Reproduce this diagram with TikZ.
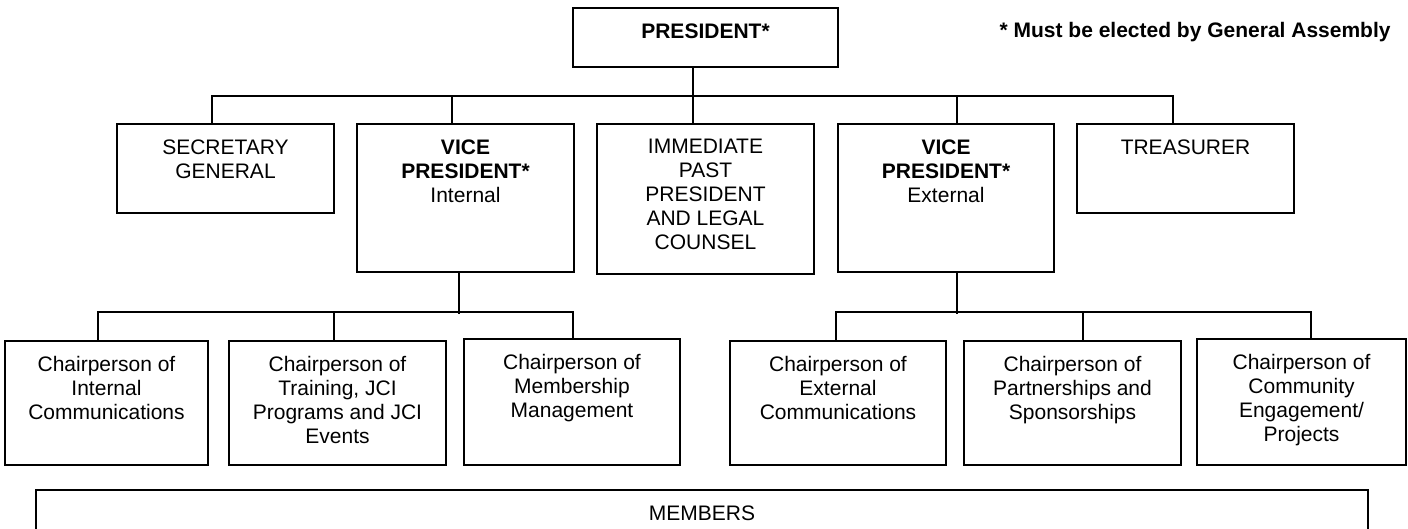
\documentclass[tikz,border=0pt]{standalone}
\usepackage{fontspec}
\setmainfont{Liberation Sans}
\usetikzlibrary{fit}

\tikzset{
  box/.style={draw, line width=1pt, inner sep=0pt},
  boxtext/.style={anchor=north, inner sep=0pt, yshift=-8pt, align=center},
  link/.style={line width=1pt},
}

\begin{document}
\begin{tikzpicture}[x=0.5pt, y=-0.5pt, font=\fontsize{10.5}{12}\selectfont]
    \useasboundingbox (0,0) rectangle (1408,529);

    % president and note
    \node[box, fit={(573,8) (838,67)}, label={[boxtext]north:{\textbf{PRESIDENT*}}}] (pres) {};
    \node[anchor=east, inner sep=0pt, font=\fontsize{10.5}{12}\selectfont\bfseries] (note) at (1391,32) {* Must be elected by General Assembly};

    % officers
    \node[box, fit={(117,124) (334,213)}, label={[boxtext]north:{SECRETARY\\GENERAL}}] (sec) {};
    \node[box, fit={(357,124) (574,272)}, label={[boxtext]north:{\textbf{VICE}\\\textbf{PRESIDENT*}\\Internal}}] (vpi) {};
    \node[box, fit={(597,124) (814,274)}, label={[boxtext]north:{IMMEDIATE\\PAST\\PRESIDENT\\AND LEGAL\\COUNSEL}}] (ipp) {};
    \node[box, fit={(838,124) (1054,272)}, label={[boxtext]north:{\textbf{VICE}\\\textbf{PRESIDENT*}\\External}}] (vpe) {};
    \node[box, fit={(1077,124) (1294,213)}, label={[boxtext]north:{TREASURER}}] (tre) {};

    \draw[link] ([xshift=48pt]sec.north west) -- ++(0,-27) -| ([xshift=48.5pt]tre.north west);
    \draw[link] ([xshift=60.5pt]pres.south west) -- ([xshift=48.5pt]ipp.north west);
    \draw[link] ([xshift=48pt]vpi.north west) -- ++(0,-27);
    \draw[link] ([xshift=60pt]vpe.north west) -- ++(0,-27);

    % internal chairs
    \node[box, fit={(5,341) (208,465)}, label={[boxtext]north:{Chairperson of\\Internal\\Communications}}] (ci1) {};
    \node[box, fit={(229,341) (446,465)}, label={[boxtext]north:{Chairperson of\\Training, JCI\\Programs and JCI\\Events}}] (ci2) {};
    \node[box, fit={(464,339) (680,465)}, label={[boxtext]north:{Chairperson of\\Membership\\Management}}] (ci3) {};

    \draw[link] ([xshift=51.5pt]vpi.south west) -- ++(0,41);
    \draw[link] ([xshift=47pt]ci1.north west) -- ++(0,-28) -| ([xshift=55pt]ci3.north west);
    \draw[link] ([xshift=53pt]ci2.north west) -- ++(0,-28);

    % external chairs
    \node[box, fit={(730,341) (946,465)}, label={[boxtext]north:{Chairperson of\\External\\Communications}}] (ce1) {};
    \node[box, fit={(964,341) (1181,465)}, label={[boxtext]north:{Chairperson of\\Partnerships and\\Sponsorships}}] (ce2) {};
    \node[box, fit={(1197,339) (1406,465)}, label={[boxtext]north:{Chairperson of\\Community\\Engagement/\\Projects}}] (ce3) {};

    \draw[link] ([xshift=60pt]vpe.south west) -- ++(0,41);
    \draw[link] ([xshift=53.5pt]ce1.north west) -- ++(0,-28) -| ([xshift=57.5pt]ce3.north west);
    \draw[link] ([xshift=60pt]ce2.north west) -- ++(0,-28);

    % members
    \node[box, fit={(36,490) (1368,560)}, label={[boxtext]north:{MEMBERS}}] (mem) {};
\end{tikzpicture}
\end{document}
